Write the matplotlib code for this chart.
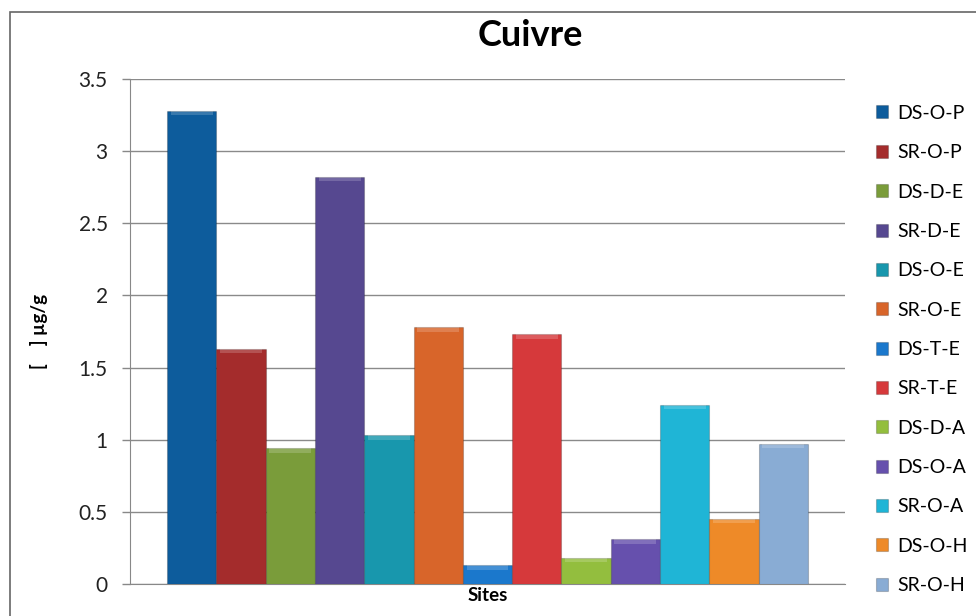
import matplotlib.pyplot as plt
from matplotlib.patches import Rectangle
import numpy as np

plt.rcParams['font.family'] = ['Lato', 'DejaVu Sans']

sites = ['DS-O-P', 'SR-O-P', 'DS-D-E', 'SR-D-E', 'DS-O-E', 'SR-O-E', 'DS-T-E',
         'SR-T-E', 'DS-D-A', 'DS-O-A', 'SR-O-A', 'DS-O-H', 'SR-O-H']
cuivre = [3.28, 1.63, 0.94, 2.82, 1.03, 1.78, 0.13, 1.73, 0.18, 0.31, 1.24, 0.45, 0.97]
colors = ['#0d5c9c', '#a42c2c', '#7a9c3a', '#564890', '#1897ad', '#d8652a', '#1b78cc',
          '#d6393b', '#93be3e', '#6650ad', '#1fb5d6', '#ee8a28', '#89acd4']
yticks = [0, 0.5, 1, 1.5, 2, 2.5, 3, 3.5]

fig = plt.figure(figsize=(9.76, 6.16), dpi=100)
ax = fig.add_axes([130/976, 32/616, 715/976, 505/616])

n = len(sites)
w = 1.0
x = (np.arange(n) - (n - 1) / 2) * w
for i in range(n):
    ax.bar(x[i], cuivre[i], width=w, color=colors[i], edgecolor='#00000033',
           linewidth=0.8, label=sites[i], zorder=3)
    # petit effet de relief en haut de la barre
    ax.bar(x[i], 0.03, bottom=cuivre[i] - 0.03, width=w * 0.85,
           color='white', alpha=0.18, linewidth=0, zorder=4)

ax.set_xlim(-n / 2 * w - 0.75, n / 2 * w + 0.75)
ax.set_ylim(0, 3.5)
ax.set_yticks(yticks)
ax.set_yticklabels(['0', '0.5', '1', '1.5', '2', '2.5', '3', '3.5'])
ax.tick_params(axis='y', labelsize=15, length=6, color='#888888', width=1, pad=10,
               labelcolor='#222222')
ax.set_xticks([])
ax.grid(axis='y', color='#8a8a8a', linewidth=1, zorder=0)
for s in ['top', 'right']:
    ax.spines[s].set_visible(False)
ax.spines['left'].set_color('#888888')
ax.spines['bottom'].set_color('#888888')

ax.set_xlabel('Sites', fontsize=13.5, fontweight='bold', labelpad=2)
ax.set_ylabel('[    ] µg/g', fontsize=13.5, fontweight='bold', labelpad=22)
fig.text(530/976, 1 - 35/616, 'Cuivre', fontsize=26, fontweight='bold',
         ha='center', va='center')

fig.legend(loc='upper left', bbox_to_anchor=(868/976, 1 - 97/616), frameon=False,
           fontsize=14, handlelength=0.65, handleheight=0.65, handletextpad=0.45,
           labelspacing=1.15, borderaxespad=0)

fig.patches.append(Rectangle((10/976, -0.05), 1.0, 1 - 12/616 + 0.05,
                             transform=fig.transFigure, fill=False,
                             edgecolor='#666666', linewidth=1.2))

fig.savefig('out.png', dpi=100)
